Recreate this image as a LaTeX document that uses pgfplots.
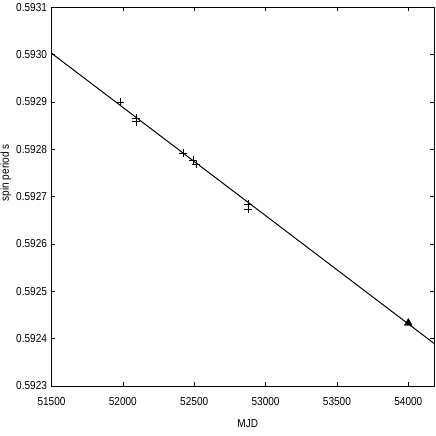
\documentclass[border=0pt]{standalone}
\usepackage{pgfplots}
\pgfplotsset{compat=1.18}
\usepackage{fontspec}
\setmainfont{Liberation Sans}[FakeStretch=0.87]
\begin{document}
\begin{tikzpicture}
\path[use as bounding box] (-51.5bp,-50bp) rectangle (384.5bp,386bp);
\begin{axis}[
  at={(0,0)}, anchor=south west,
  scale only axis,
  width=382.5bp, height=378.7bp,
  xmin=51500, xmax=54180,
  ymin=0.5923, ymax=0.5931,
  xtick={51500,52000,52500,53000,53500,54000},
  ytick={0.5923,0.5924,0.5925,0.5926,0.5927,0.5928,0.5929,0.5930,0.5931},
  scaled x ticks=false, scaled y ticks=false,
  xticklabel style={yshift=-8bp, /pgf/number format/fixed, /pgf/number format/1000 sep={}, /pgf/number format/precision=0},
  yticklabel style={xshift=-1bp, /pgf/number format/fixed, /pgf/number format/fixed zerofill, /pgf/number format/precision=4},
  /pgf/number format/assume math mode=true,
  tick label style={font=\fontsize{11.6}{13}\selectfont},
  tick align=inside,
  major tick length=4bp,
  tick style={black, line width=0.7pt},
  axis line style={line width=1pt},
  xlabel={MJD},
  ylabel={spin period s},
  every axis x label/.style={at={(axis description cs:0.513,-0.1)}, anchor=center, font=\fontsize{11.6}{13}\selectfont},
  every axis y label/.style={at={(axis description cs:-0.119,0.563)}, anchor=center, rotate=90, font=\fontsize{11.6}{13}\selectfont},
  clip=false,
]
\addplot[black, line width=1pt] coordinates {(51500,0.593003) (54180,0.592390)};
\addplot[only marks, mark=+, mark size=4bp, black, mark options={line width=0.9pt}] coordinates {
(51980,0.592900)
(52093,0.592866)
(52093,0.592858)
(52422,0.592792)
(52492,0.592777)
(52513,0.592769)
(52878,0.592684)
(52878,0.592674)
};
\addplot[only marks, mark=triangle*, mark size=4.5bp, black] coordinates {(54000,0.592433)};
\end{axis}
\end{tikzpicture}
\end{document}
